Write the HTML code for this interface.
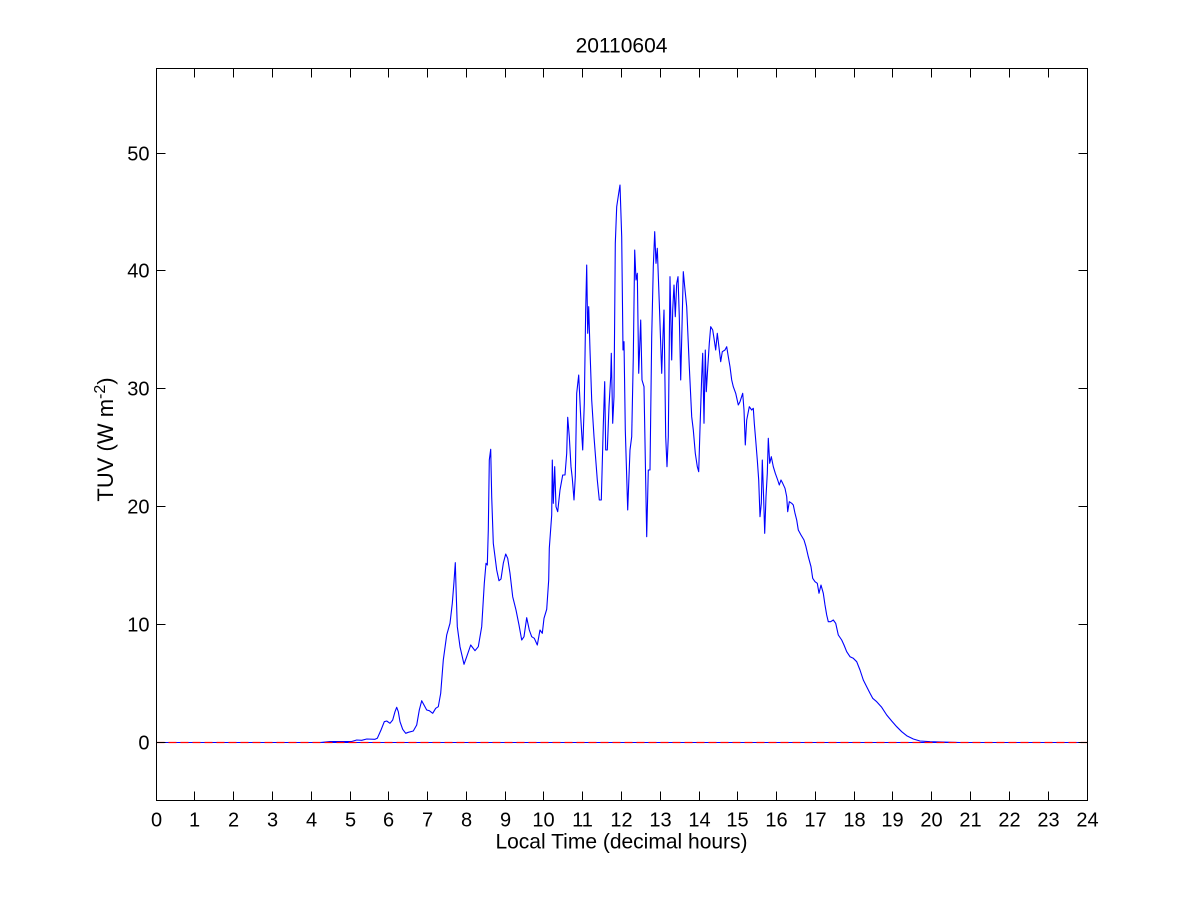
<!DOCTYPE html>
<html><head><meta charset="utf-8"><style>
html,body{margin:0;padding:0;background:#fff;}
svg{display:block;}
text{font-family:"Liberation Sans",Arial,sans-serif;fill:#000;}
</style></head><body>
<svg width="1201" height="900" viewBox="0 0 1201 900" xmlns="http://www.w3.org/2000/svg">
<rect x="0" y="0" width="1201" height="900" fill="#fff"/>
<line x1="156.5" y1="742.5" x2="1087" y2="742.5" stroke="#0000ff" stroke-width="1"/>
<polyline fill="none" stroke="#0000ff" stroke-width="1.1" stroke-linejoin="round" points="
156,742.5 320,742.5 330,741.5 351.7,741.5 356.7,740 361.7,740.3 366.7,739 375,739.3 377.3,738.3 381,730 384.3,721.7 386.7,721 390,723.3 392.7,720 395,711.7 396.7,707.3 398.3,711.7 400,721.7 402.7,729.3 405.7,733.3 408.3,732.3 413.3,731 416.7,725 419.3,710 421.7,700.7 424,705 426.7,710 429.3,710.7 432.7,713.3 435.7,708.3 438.3,706.7 440.7,693.3 443.3,660 446.7,635 450,623.3 452.3,603.3 454,581.7 455.3,562.7 456,586.7 457.3,626.7 460,646.7 464,664.3 466.7,656.7 470.7,645 475,650.7 478.3,646.7 481.7,626.7 484.3,583.3 486,563.3 487.3,565 488.3,530 489.3,460 490.7,449.3 491.7,496.7 493.3,543.3 496.7,570 499,580.7 501,579 503.3,563.3 505.7,554 507.7,558.3 510,573.3 512.7,596.7 516,610 519,625 521.7,640 524,636.7 526.7,617.7 529.3,630 531.7,636.7 534.3,638.3 537.3,645 540,630 542.3,633.3 544,618.3 546.7,609.3 548.7,580 549.3,548.3 551.7,515 552.3,460 553.3,503.3 554.7,466.7 556,506.7 557.7,511.7 560,490 562.7,475 565,475 566.7,453.3 567.7,417.3 569.3,436.7 571,466.7 572.3,478.3 574,500 575.3,476.7 576.7,393.3 578.7,375 580.7,416.7 582.7,450 584.3,403.3 585.7,310 586.7,265 587.7,333.3 588.7,306.7 590,350 591.7,400 594,436.7 597.3,480 599.3,500 601.3,500 603.3,425 604.7,381.7 605.7,450 607.3,450 609,406.7 610.7,376.7 611.3,353.3 612.7,423.3 614,396.7 615.3,243.3 616.7,206.7 618.7,193.3 620,185 621.7,236.7 623,350 624,341.7 625.3,430 627.7,510 630,450 631.7,436.7 633.3,356.7 634.7,250 636,280 637.3,273.3 638.7,373.3 640.7,320 642,380 644,386.7 646.7,536.7 648.3,470 650,470 651.7,336.7 653.3,266.7 654.7,231.7 656,263.3 657.3,248.3 659.3,303.3 661.7,373.3 662.7,343.3 664,310 665.7,436.7 667,466.7 668.3,436.7 670,276.7 671.7,360 672.7,310 674,285 675.3,316.7 676.7,283.3 678,276.7 679.3,316.7 680.7,380 682,326.7 683.3,271.7 684.7,286.7 686.7,306.7 689.3,366.7 691.7,416.7 693.3,430 695.3,453.3 697.3,466.7 698.7,471.7 700,428.3 701.7,376.7 702.7,353.3 704,423.3 705.3,350 706.3,391.7 707.7,368.3 709.3,343.3 710.7,326.7 712.7,330 714,338.3 715.7,350 717.3,333.3 719.3,350 720.7,361.7 722.3,351.7 725,350 726.7,346.7 728.3,356.7 730,366.7 731.7,380 733.3,386.7 735.7,393.3 738.3,405 740,401.7 742.7,393.3 744,410 745.3,445 746.7,420 749.3,406.7 751.7,410 753.3,408.3 754.3,423.3 755.7,440 757.3,460 758.7,480 760,516.7 761.3,503.3 762.3,460 763.7,500 764.7,533.3 766,496.7 767.3,473.3 768.3,438.3 769.7,463.3 771.3,456.7 773.3,466.7 775.3,473.3 777.7,480 779.3,485 781,480 782.7,483.3 785,488.3 786.7,496.7 787.7,511.7 789.3,501.7 791.7,503.3 793.3,505 795,513.3 796.7,520 798.3,530 801,535 804,540 806,546.7 808.3,556.7 811,566.7 812.7,578.3 815,581.7 817.3,583.3 819,593.3 821,585 823.3,593.3 825,605 826.7,615 828.3,621.7 830.7,621.7 833.3,620 835.7,623.3 838.3,635 841.7,640 844,645 846.7,651.7 850,656.7 853.3,658.3 856.7,661.7 860,670 863.3,680 866.7,686.7 870,693.3 872.7,698.3 876.7,701.7 881.7,707.3 886.7,715 891.7,721 896.7,726.7 901.7,731.7 906.7,735.7 913.3,739 920,741 930,741.7 960,742.5 1087,742.5"/>
<line x1="156.5" y1="742.5" x2="1087" y2="742.5" stroke="#ff0000" stroke-width="1.3" stroke-dasharray="8,4"/>
<rect x="156.5" y="68.5" width="931" height="732" fill="none" stroke="#000" stroke-width="1"/>
<g stroke="#000" stroke-width="1">
<path d="M194.5 800.5v-9M233.5 800.5v-9M272.5 800.5v-9M311.5 800.5v-9M350.5 800.5v-9M388.5 800.5v-9M427.5 800.5v-9M466.5 800.5v-9M505.5 800.5v-9M543.5 800.5v-9M582.5 800.5v-9M621.5 800.5v-9M660.5 800.5v-9M699.5 800.5v-9M737.5 800.5v-9M776.5 800.5v-9M815.5 800.5v-9M854.5 800.5v-9M892.5 800.5v-9M931.5 800.5v-9M970.5 800.5v-9M1009.5 800.5v-9M1048.5 800.5v-9"/>
<path d="M194.5 68.5v9M233.5 68.5v9M272.5 68.5v9M311.5 68.5v9M350.5 68.5v9M388.5 68.5v9M427.5 68.5v9M466.5 68.5v9M505.5 68.5v9M543.5 68.5v9M582.5 68.5v9M621.5 68.5v9M660.5 68.5v9M699.5 68.5v9M737.5 68.5v9M776.5 68.5v9M815.5 68.5v9M854.5 68.5v9M892.5 68.5v9M931.5 68.5v9M970.5 68.5v9M1009.5 68.5v9M1048.5 68.5v9"/>
<path d="M156.5 742.5h9M156.5 624.5h9M156.5 506.5h9M156.5 388.5h9M156.5 270.5h9M156.5 153.5h9"/>
<path d="M1087.5 742.5h-9M1087.5 624.5h-9M1087.5 506.5h-9M1087.5 388.5h-9M1087.5 270.5h-9M1087.5 153.5h-9"/>
</g>
<g font-size="20" text-anchor="middle">
<text x="156.5" y="826.5">0</text><text x="194.5" y="826.5">1</text><text x="233.5" y="826.5">2</text><text x="272.5" y="826.5">3</text><text x="311.5" y="826.5">4</text><text x="350.5" y="826.5">5</text><text x="388.5" y="826.5">6</text><text x="427.5" y="826.5">7</text><text x="466.5" y="826.5">8</text><text x="505.5" y="826.5">9</text><text x="543.5" y="826.5">10</text><text x="582.5" y="826.5">11</text><text x="621.5" y="826.5">12</text><text x="660.5" y="826.5">13</text><text x="699.5" y="826.5">14</text><text x="737.5" y="826.5">15</text><text x="776.5" y="826.5">16</text><text x="815.5" y="826.5">17</text><text x="854.5" y="826.5">18</text><text x="892.5" y="826.5">19</text><text x="931.5" y="826.5">20</text><text x="970.5" y="826.5">21</text><text x="1009.5" y="826.5">22</text><text x="1048.5" y="826.5">23</text><text x="1087.5" y="826.5">24</text>
</g>
<g font-size="20" text-anchor="end">
<text x="149.5" y="749.5">0</text><text x="149.5" y="631.5">10</text><text x="149.5" y="513.5">20</text><text x="149.5" y="395.5">30</text><text x="149.5" y="277.5">40</text><text x="149.5" y="160.5">50</text>
</g>
<text x="621.5" y="52.3" font-size="21" text-anchor="middle">20110604</text>
<text x="621.5" y="848.3" font-size="21" text-anchor="middle">Local Time (decimal hours)</text>
<text transform="translate(113,439.5) rotate(-90)" font-size="22" text-anchor="middle">TUV (W m<tspan dy="-8" font-size="16">-2</tspan><tspan dy="8">)</tspan></text>
</svg>
</body></html>
